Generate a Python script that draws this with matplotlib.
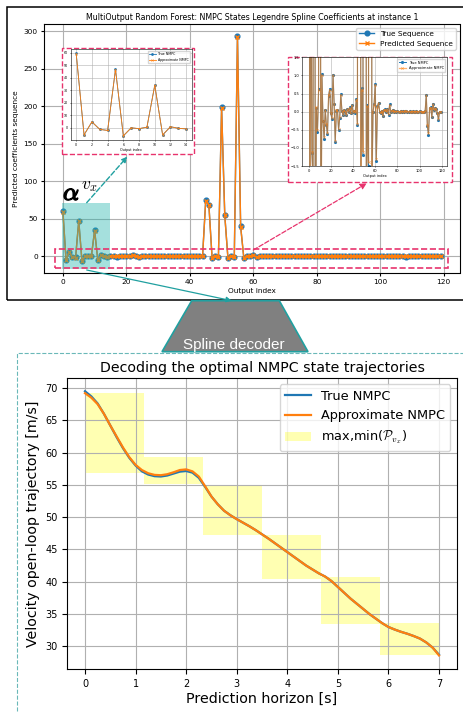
import matplotlib.pyplot as plt
import matplotlib.patheffects as pe
import numpy as np
from matplotlib.patches import Rectangle, Polygon, FancyArrowPatch

plt.rcParams['mathtext.fontset'] = 'cm'

W, H = 463, 712

# coefficient sequence, instance 1 (top panel)
coef_true = [59.5, -5.5, 4.8, -1.15, -1.9, 46.8, -6.3, 0.1, -0.55, 0.63,
             34.2, -5.6, 1.04, -0.27, -0.75, 0.05, -0.38, -0.63, 0.43, 0.63,
             -0.05, -0.2, 1.02, 0.22, -0.85, 0.03, 0.05, -0.5, -0.18, 0.48,
             0.02, -0.1, 0.05, 0.0, -0.1, 0.08, 0.0, 0.12, -0.05, 0.18,
             0.0, 0.03, -0.03, 0.35, -0.36, 74.5, 68.0, -2.3, 0.65, -1.2,
             198.5, 54.5, -3.0, 0.18, -1.5, 293.5, 39.5, -2.4, 0.0, 0.2,
             0.77, -1.35, 0.15, 0.25, 0.0, -0.05, 0.03, -0.12, 0.05, 0.06,
             0.0, 0.07, -0.08, 0.2, 0.0, 0.03, 0.05, -0.02, 0.02, 0.0,
             0.01, 0.0, -0.01, 0.02, 0.0, 0.01, 0.0, 0.02, 0.01, 0.0,
             0.0, 0.01, -0.01, 0.0, 0.01, 0.0, 0.0, 0.01, 0.0, 0.0,
             0.01, 0.0, -0.01, 0.0, -0.02, 0.01, 0.47, -0.4, -0.64, 0.1,
             0.12, -0.15, 0.22, 0.05, 0.1, 0.08, -0.05, -0.22, 0.0, 0.0]
coef_pred = [59.3, -5.4, 4.9, -1.1, -2.0, 46.6, -6.2, 0.12, -0.5, 0.6,
             34.0, -5.5, 1.0, -0.25, -0.7, 0.05, -0.35, -0.6, 0.45, 0.6,
             -0.03, -0.18, 1.0, 0.2, -0.8, 0.04, 0.05, -0.48, -0.16, 0.46,
             0.02, -0.08, 0.05, 0.0, -0.09, 0.07, 0.0, 0.11, -0.04, 0.17,
             0.0, 0.03, -0.02, 0.33, -0.34, 74.0, 67.6, -2.2, 0.6, -1.1,
             198.0, 54.2, -2.9, 0.15, -1.4, 293.0, 39.2, -2.3, 0.0, 0.18,
             0.74, -1.3, 0.14, 0.24, 0.0, -0.04, 0.03, -0.11, 0.05, 0.05,
             0.0, 0.06, -0.07, 0.18, 0.0, 0.03, 0.04, -0.02, 0.02, 0.0,
             0.01, 0.0, -0.01, 0.02, 0.0, 0.01, 0.0, 0.02, 0.01, 0.0,
             0.0, 0.01, -0.01, 0.0, 0.01, 0.0, 0.0, 0.01, 0.0, 0.0,
             0.01, 0.0, -0.01, 0.0, -0.02, 0.01, 0.45, -0.38, -0.6, 0.1,
             0.11, -0.14, 0.2, 0.05, 0.09, 0.07, -0.04, -0.2, 0.0, 0.0]

# decoded velocity trajectory (bottom panel), sampled every 0.125 s
t_h = [0.0, 0.125, 0.25, 0.375, 0.5, 0.625, 0.75, 0.875,
       1.0, 1.125, 1.25, 1.375, 1.5, 1.625, 1.75, 1.875,
       2.0, 2.125, 2.25, 2.375, 2.5, 2.625, 2.75, 2.875,
       3.0, 3.125, 3.25, 3.375, 3.5, 3.625, 3.75, 3.875,
       4.0, 4.125, 4.25, 4.375, 4.5, 4.625, 4.75, 4.875,
       5.0, 5.125, 5.25, 5.375, 5.5, 5.625, 5.75, 5.875,
       6.0, 6.125, 6.25, 6.375, 6.5, 6.625, 6.75, 6.875, 7.0]
v_true = [69.5, 68.7, 67.6, 66.0, 64.2, 62.4, 60.7, 59.2,
          58.0, 57.1, 56.6, 56.35, 56.3, 56.45, 56.75, 57.05,
          57.15, 56.9, 56.1, 54.7, 53.2, 52.0, 51.0, 50.3,
          49.7, 49.15, 48.6, 48.0, 47.35, 46.7, 46.0, 45.3,
          44.6, 43.9, 43.2, 42.5, 41.9, 41.3, 40.8, 40.1,
          39.2, 38.3, 37.4, 36.6, 35.8, 35.0, 34.3, 33.6,
          33.0, 32.6, 32.25, 31.95, 31.6, 31.2, 30.6, 29.8, 28.7]
v_pred = [69.2, 68.5, 67.5, 66.0, 64.2, 62.5, 60.8, 59.3,
          58.1, 57.3, 56.8, 56.55, 56.5, 56.65, 56.95, 57.3,
          57.4, 57.1, 56.3, 54.8, 53.2, 52.0, 51.0, 50.3,
          49.7, 49.15, 48.6, 48.0, 47.35, 46.7, 46.0, 45.3,
          44.6, 43.9, 43.2, 42.5, 41.9, 41.3, 40.8, 40.1,
          39.2, 38.3, 37.4, 36.6, 35.8, 35.0, 34.3, 33.6,
          33.0, 32.6, 32.25, 31.95, 31.6, 31.2, 30.6, 29.8, 28.6]
seg_edges = [0, 1.17, 2.33, 3.5, 4.67, 5.83, 7.0]
box_hi = [69.2, 59.3, 55.0, 47.3, 40.7, 33.6]
box_lo = [56.8, 55.1, 47.2, 40.5, 33.4, 28.6]

RED = '#e8336d'
TEAL = '#20a0a0'


def rect(l, t, r, b):
    # pixel box (from top-left) -> figure fraction
    return [l / W, 1 - b / H, (r - l) / W, (b - t) / H]


def fp(x, y):
    return (x / W, 1 - y / H)


fig = plt.figure(figsize=(W / 100, H / 100), dpi=100)

# frame around the top panel
fig.add_artist(Rectangle(fp(7.3, 300), (480 - 7.3) / W, (300 - 7) / H,
                         transform=fig.transFigure, fill=False, ec='black', lw=1.1, zorder=0.5))

# ---------- main coefficient plot ----------
ax = fig.add_axes(rect(44, 24, 459.5, 272.5))
idx = np.arange(len(coef_true))
ax.plot(idx, coef_true, marker='o', ms=3.4, lw=1.0, color='#1f77b4', label='True Sequence')
ax.plot(idx, coef_pred, marker='x', ms=3.2, lw=1.0, color='#ff7f0e', label='Predicted Sequence')
ax.set_xlim(-5.95, 124.95)
ax.set_ylim(-22, 310)
ax.set_xticks(range(0, 121, 20))
ax.set_yticks(range(0, 301, 50))
ax.grid(True)
ax.tick_params(labelsize=5.3, length=2.5, pad=2)
ax.set_xlabel('Output index', fontsize=5.3, labelpad=2)
ax.set_ylabel('Predicted coefficients sequence', fontsize=5.3, labelpad=3)
ax.set_title('MultiOutput Random Forest: NMPC States Legendre Spline Coefficients at instance 1',
             fontsize=5.7, pad=3)
ax.legend(loc='upper right', fontsize=5.3)
ax.add_patch(Rectangle((-0.3, -17.4), 15.2, 88.9, facecolor='lightseagreen', alpha=0.4, lw=0, zorder=3))
ax.add_patch(Rectangle((-2.4, -15.7), 123.6, 24.7, fill=False, ec=RED, ls='--', lw=1.2, zorder=4))

# ---------- zoom insets ----------
fig.add_artist(Rectangle(fp(61.7, 154.3), (194.3 - 61.7) / W, (154.3 - 48.3) / H,
                         transform=fig.transFigure, fc='white', ec=RED, ls='--', lw=1.0, zorder=1.5))
fig.add_artist(Rectangle(fp(288.3, 181.7), (451.7 - 288.3) / W, (181.7 - 56.7) / H,
                         transform=fig.transFigure, fc='white', ec=RED, ls='--', lw=1.0, zorder=1.5))

ax1 = fig.add_axes(rect(70.7, 49.3, 191.7, 140), zorder=2)
ax1.plot(idx[:15], coef_true[:15], marker='.', ms=2, lw=0.6, color='#1f77b4', label='True NMPC')
ax1.plot(idx[:15], coef_pred[:15], marker='x', ms=1.5, mew=0.4, lw=0.6, color='#ff7f0e', label='Approximate NMPC')
ax1.set_xticks(range(0, 15, 2))
ax1.set_yticks(range(0, 61, 10))
ax1.grid(True, lw=0.4)
ax1.tick_params(labelsize=2.3, length=1, width=0.4, pad=1)
ax1.set_xlabel('Output index', fontsize=2.4, labelpad=1)
ax1.legend(loc='upper right', fontsize=2.3)
for s in ax1.spines.values():
    s.set_linewidth(0.4)

ax2 = fig.add_axes(rect(302, 57.3, 447.3, 166), zorder=2)
ax2.plot(idx, coef_true, marker='.', ms=2.5, lw=0.7, color='#1f77b4', label='True NMPC')
ax2.plot(idx, coef_pred, marker='x', ms=1.8, mew=0.5, lw=0.9, color='#ff7f0e', alpha=0.6, label='Approximate NMPC')
ax2.set_xlim(-5.95, 124.95)
ax2.set_ylim(-1.5, 1.5)
ax2.set_xticks(range(0, 121, 20))
ax2.set_yticks(np.arange(-1.5, 1.51, 0.5))
ax2.grid(True, lw=0.4)
ax2.tick_params(labelsize=2.6, length=1, width=0.4, pad=1)
ax2.set_xlabel('Output index', fontsize=2.6, labelpad=1)
ax2.legend(loc='upper right', fontsize=2.6)
for s in ax2.spines.values():
    s.set_linewidth(0.4)

# arrows and labels
fig.add_artist(FancyArrowPatch(fp(86.7, 202.7), fp(127.3, 156.7), transform=fig.transFigure,
                               arrowstyle='-|>', mutation_scale=8, color=TEAL, ls='--', lw=1.0,
                               shrinkA=0, shrinkB=0, zorder=5))
fig.add_artist(FancyArrowPatch(fp(86.7, 270), fp(231.7, 300.7), transform=fig.transFigure,
                               arrowstyle='-|>', mutation_scale=8, color=TEAL, lw=0.9,
                               shrinkA=0, shrinkB=0, zorder=5))
fig.add_artist(FancyArrowPatch(fp(253.3, 250), fp(366.7, 183.3), transform=fig.transFigure,
                               arrowstyle='-|>', mutation_scale=9, color=RED, ls='--', lw=0.9,
                               shrinkA=0, shrinkB=0, zorder=5))
# alpha label: heavy alpha, then the v_x superscript next to it
fig.text(*fp(63, 200), r'$\alpha$', fontsize=18, va='baseline', zorder=6,
         path_effects=[pe.withStroke(linewidth=1.0, foreground='black')])
fig.text(*fp(81, 189), r'$v_x$', fontsize=12.5, va='baseline', zorder=6)

# spline decoder block
fig.add_artist(Polygon([fp(191.7, 300.7), fp(279.3, 300.7), fp(308, 351.7), fp(162, 351.7)],
                       closed=True, transform=fig.transFigure, fc='#808080', ec=TEAL, lw=1.2, zorder=3))
fig.text(*fp(234, 349), 'Spline decoder', color='white', ha='center', va='baseline',
         fontsize=11, family='Liberation Sans', zorder=4)

# dashed frame of the bottom panel
fig.add_artist(Rectangle(fp(17.3, 730), (480 - 17.3) / W, (730 - 353) / H,
                         transform=fig.transFigure, fill=False, ec='#6ab8b8', ls='--', lw=0.8))

# ---------- decoded trajectory ----------
ax3 = fig.add_axes(rect(67.3, 378, 456.7, 669.3))
for i in range(len(box_hi)):
    ax3.fill_between([seg_edges[i], seg_edges[i + 1]], box_lo[i], box_hi[i], color='yellow',
                     alpha=0.3, lw=0, label=r'max,min($\mathcal{P}_{v_x}$)' if i == 0 else None)
ax3.plot(t_h, v_true, color='#1f77b4', lw=1.6, label='True NMPC')
ax3.plot(t_h, v_pred, color='#ff7f0e', lw=1.6, label='Approximate NMPC')
ax3.set_xlim(-0.35, 7.35)
ax3.set_ylim(26.45, 71.55)
ax3.set_yticks(range(30, 71, 5))
ax3.grid(True)
ax3.tick_params(labelsize=7)
ax3.set_title('Decoding the optimal NMPC state trajectories', fontsize=10.2, pad=4)
ax3.set_xlabel('Prediction horizon [s]', fontsize=10.3, labelpad=2)
ax3.set_ylabel('Velocity open-loop trajectory [m/s]', fontsize=10.2)
h, lab = ax3.get_legend_handles_labels()
order = [lab.index('True NMPC'), lab.index('Approximate NMPC'), 0]
ax3.legend([h[k] for k in order], [lab[k] for k in order], loc='upper right', fontsize=9.3)

fig.savefig('out.png', dpi=100)
